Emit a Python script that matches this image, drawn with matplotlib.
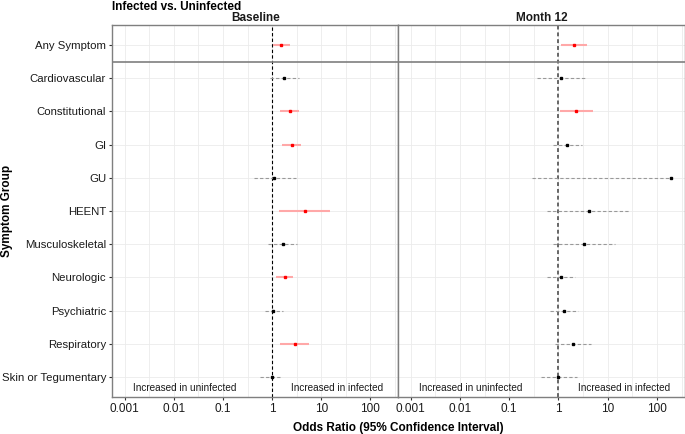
import numpy as np
import matplotlib
matplotlib.use("Agg")
import matplotlib.pyplot as plt

plt.rcParams['font.family'] = ['Liberation Sans', 'DejaVu Sans']

groups = ["Any Symptom", "Cardiovascular", "Constitutional", "GI", "GU", "HEENT",
          "Musculoskeletal", "Neurologic", "Psychiatric", "Respiratory", "Skin or Tegumentary"]

base_or = [1.53, 1.76, 2.29, 2.48, 1.10, 4.7, 1.65, 1.87, 1.06, 2.9, 0.98]
base_lo = [1.02, 0.91, 1.46, 1.62, 0.43, 1.41, 0.82, 1.21, 0.72, 1.46, 0.57]
base_hi = [2.33, 3.55, 3.6, 3.85, 3.0, 15.2, 3.2, 2.72, 1.65, 5.7, 1.57]
base_sig = [True, False, True, True, False, True, False, True, False, True, False]

m12_or = [2.04, 1.11, 2.32, 1.52, 195.0, 4.2, 3.37, 1.13, 1.32, 1.95, 1.0]
m12_lo = [1.13, 0.37, 1.08, 0.77, 0.29, 0.59, 0.76, 0.59, 0.69, 0.84, 0.45]
m12_hi = [3.75, 3.47, 5.1, 3.0, 195.0, 27.5, 14.3, 2.2, 2.54, 4.6, 2.4]
m12_sig = [True, False, True, False, False, False, False, False, False, False, False]

panels = ["Baseline", "Month 12"]
xticks = [0.001, 0.01, 0.1, 1, 10, 100]
xticklabels = ["0.001", "0.01", "0.1", "1", "10", "100"]

fig = plt.figure(figsize=(6.85, 4.34), dpi=100)
W, H = 685, 434
top_px, bot_px = 25, 397
axl = fig.add_axes([112.3 / W, 1 - bot_px / H, (398 - 112.3) / W, (bot_px - top_px) / H])
axr = fig.add_axes([398.3 / W, 1 - bot_px / H, (684.5 - 398.3) / W, (bot_px - top_px) / H])

data = [(base_or, base_lo, base_hi, base_sig), (m12_or, m12_lo, m12_hi, m12_sig)]
ypos = np.arange(len(groups))
border = '#7f7f7f'

for i, (ax, (orr, lo, hi, sig)) in enumerate(zip([axl, axr], data)):
    ax.set_xscale('log')
    ax.set_xlim(10 ** -3.25, 10 ** 2.56)
    ax.set_ylim(10.6, -0.6)
    # grid
    for d in np.arange(-3, 3, 0.5):
        ax.axvline(10 ** d, color='#ebebeb', lw=0.6, zorder=0)
    for y in ypos:
        ax.axhline(y, color='#ebebeb', lw=0.6, zorder=0)
    ax.axhline(0.5, color=border, lw=1.2, zorder=3)
    if i == 0:
        ax.axvline(1, color='black', lw=0.8, ls=(0, (3, 2)), zorder=2)
    else:
        ax.axvline(1, color='#666666', lw=1.4, ls=(0, (2, 1.5)), zorder=2)
    for y, o, l, h, s in zip(ypos, orr, lo, hi, sig):
        if s:
            ax.plot([l, h], [y, y], color='#ffa8a8', lw=1.5, solid_capstyle='butt', zorder=4)
            ax.plot([o], [y], marker='s', ms=1.6, color='#ff0000', mec='#ff0000', zorder=5)
        else:
            ax.plot([l, h], [y, y], color='#999999', lw=0.8, ls=(0, (3, 2)), zorder=4)
            ax.plot([o], [y], marker='s', ms=1.6, color='black', mec='black', zorder=5)
    ax.set_xticks(xticks)
    ax.set_xticklabels(xticklabels, fontsize=8.5, color='#1a1a1a')
    ax.xaxis.set_minor_locator(matplotlib.ticker.NullLocator())
    ax.tick_params(axis='x', length=2.5, color='#333333', pad=2)
    for sp in ax.spines.values():
        sp.set_color(border)
        sp.set_linewidth(1.0)
    ax.set_title(panels[i], fontsize=8.5, fontweight='bold', pad=3, color='#1a1a1a')
    ax.text(10 ** -1.78, 10.33, "Increased in uninfected", ha='center', va='center', fontsize=7.2, color='#1a1a1a')
    ax.text(10 ** 1.33, 10.33, "Increased in infected", ha='center', va='center', fontsize=7.2, color='#1a1a1a')

axl.set_yticks(ypos)
axl.set_yticklabels(groups, fontsize=8.2, color='#1a1a1a')
axl.tick_params(axis='y', length=2.5, color='#333333', pad=2)
axr.set_yticks(ypos)
axr.set_yticklabels([])
axr.tick_params(axis='y', length=0)

fig.text(7 / W, 1 - 211 / H, "Symptom Group", rotation=90, ha='center', va='center',
         fontsize=8.5, fontweight='bold')
fig.text(398 / W, 1 - 428 / H, "Odds Ratio (95% Confidence Interval)", ha='center', va='center',
         fontsize=8.5, fontweight='bold')
fig.text(112 / W, 1 - 0.5 / H, "Infected vs. Uninfected", ha='left', va='top',
         fontsize=8.5, fontweight='bold')

fig.savefig("out.png", dpi=100)
